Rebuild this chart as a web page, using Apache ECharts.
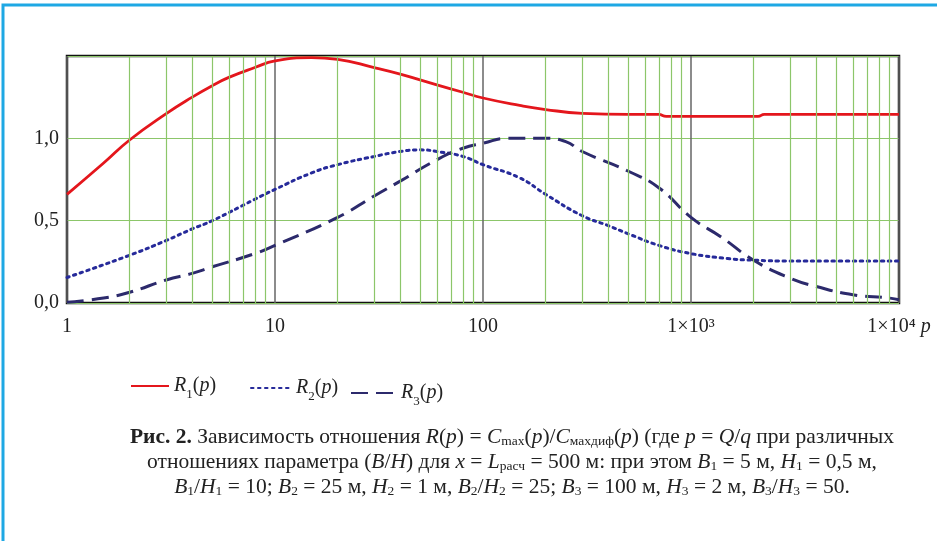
<!DOCTYPE html>
<html>
<head>
<meta charset="utf-8">
<script src="https://cdn.jsdelivr.net/npm/echarts@6/dist/echarts.min.js"></script>
<style>
  html, body { margin: 0; padding: 0; background: #fff; }
  #chart { width: 937px; height: 541px; }
</style>
</head>
<body>
<div id="chart"></div>
<script>
// значения p (ось x, логарифмическая) и R(p) для трёх кривых
var pR1 = [1, 1.5, 2, 3, 4, 5, 6, 8, 10, 15, 20, 30, 40, 60, 80, 100, 150, 200, 300, 500, 700, 760, 2100, 2250, 3000, 5000, 10000];
var vR1 = [0.66, 0.85, 0.99, 1.15, 1.25, 1.32, 1.37, 1.43, 1.47, 1.49, 1.48, 1.43, 1.39, 1.325, 1.28, 1.245, 1.2, 1.175, 1.152, 1.145, 1.145, 1.133, 1.133, 1.145, 1.145, 1.145, 1.145];

var pR2 = [1, 2, 3, 4, 5, 8, 10, 15, 20, 30, 40, 50, 60, 80, 100, 150, 200, 300, 400, 500, 700, 1000, 1500, 2000, 3000, 5000, 10000];
var vR2 = [0.155, 0.29, 0.38, 0.45, 0.5, 0.63, 0.69, 0.79, 0.84, 0.89, 0.92, 0.93, 0.92, 0.89, 0.84, 0.76, 0.66, 0.53, 0.47, 0.42, 0.35, 0.30, 0.27, 0.26, 0.255, 0.255, 0.255];

var pR3 = [1, 1.5, 2, 3, 4, 5, 8, 10, 20, 30, 40, 60, 80, 100, 130, 200, 250, 300, 500, 700, 1000, 1400, 2000, 3000, 4000, 6000, 9000, 10000];
var vR3 = [0.005, 0.03, 0.065, 0.14, 0.18, 0.22, 0.30, 0.35, 0.52, 0.65, 0.74, 0.87, 0.94, 0.97, 1.0, 1.0, 0.98, 0.92, 0.80, 0.70, 0.52, 0.40, 0.26, 0.15, 0.10, 0.05, 0.03, 0.02];

var xTickLabels = {1: '1', 10: '10', 100: '100', 1000: '1×10³', 10000: '1×10⁴ {i|p}'};
var yTickLabels = {0: '0,0', 0.5: '0,5', 1: '1,0', 1.5: ''};

var captionLines = [
    '{b|Рис. 2.} Зависимость отношения {i|R}({i|p}) = {i|C}{s|max}({i|p})/{i|C}{s|махдиф}({i|p}) (где {i|p} = {i|Q}/{i|q} при различных',
    'отношениях параметра ({i|B}/{i|H}) для {i|x} = {i|L}{s|расч} = 500 м: при этом {i|B}{s|1} = 5 м, {i|H}{s|1} = 0,5 м,',
    '{i|B}{s|1}/{i|H}{s|1} = 10; {i|B}{s|2} = 25 м, {i|H}{s|2} = 1 м, {i|B}{s|2}/{i|H}{s|2} = 25; {i|B}{s|3} = 100 м, {i|H}{s|3} = 2 м, {i|B}{s|3}/{i|H}{s|3} = 50.'
];

function zip(xs, ys) {
    return xs.map(function (x, i) { return [x, ys[i]]; });
}

// второстепенные линии сетки 2..9 в каждой декаде
var minorLines = [];
[1, 10, 100, 1000].forEach(function (d) {
    for (var k = 2; k <= 9; k++) minorLines.push({xAxis: k * d});
});

var serif = 'Liberation Serif';
var richBase = {
    i: {fontFamily: serif, fontStyle: 'italic', fontSize: 20, lineHeight: 20, verticalAlign: 'middle', color: '#222'},
    n: {fontFamily: serif, fontSize: 20, lineHeight: 20, verticalAlign: 'middle', color: '#222'},
    s: {fontFamily: serif, fontSize: 13, lineHeight: 14, verticalAlign: 'bottom', color: '#222'},
    pad: {fontSize: 1, lineHeight: 30, verticalAlign: 'middle'}
};

function legendName(name) {
    return '{pad|}{i|R}{s|' + name.slice(1) + '}{n|(}{i|p}{n|)}';
}

var captionRich = {
    b: {fontFamily: serif, fontWeight: 'bold', fontSize: 21.5, lineHeight: 21, verticalAlign: 'middle', fill: '#222'},
    i: {fontFamily: serif, fontStyle: 'italic', fontSize: 21.5, lineHeight: 21, verticalAlign: 'middle', fill: '#222'},
    s: {fontFamily: serif, fontSize: 13.5, lineHeight: 14, verticalAlign: 'bottom', fill: '#222'}
};

var myChart = echarts.init(document.getElementById('chart'));

var option = {
    backgroundColor: '#fff',
    animation: false,
    grid: {
        left: 67, top: 56, right: 38, bottom: 238,
        show: true, borderColor: '#111', borderWidth: 2.5
    },
    xAxis: {
        type: 'log', logBase: 10, min: 1, max: 10000,
        axisLine: {show: false},
        axisTick: {show: false},
        splitLine: {show: true, lineStyle: {color: '#666', width: 1.5}},
        axisLabel: {
            margin: 14,
            fontFamily: serif, fontSize: 20, color: '#222',
            formatter: function (v) { return xTickLabels[Math.round(v)] || ''; },
            rich: {i: {fontFamily: serif, fontStyle: 'italic', fontSize: 20, color: '#222'}}
        }
    },
    yAxis: {
        type: 'value', min: 0, max: 1.5, interval: 0.5,
        axisLine: {show: false},
        axisTick: {show: false},
        splitLine: {show: true, lineStyle: {color: '#8cc66a', width: 1.2}},
        axisLabel: {
            margin: 8,
            fontFamily: serif, fontSize: 20, color: '#222',
            formatter: function (v) { var k = Math.round(v * 10) / 10; return yTickLabels[k] !== undefined ? yTickLabels[k] : ''; }
        }
    },
    legend: [
        {data: ['R1'], left: 125, top: 371, itemWidth: 38, itemHeight: 14, itemStyle: {opacity: 0}, formatter: legendName, textStyle: {rich: richBase}},
        {data: ['R2'], left: 245, top: 373, itemWidth: 40, itemHeight: 14, itemStyle: {opacity: 0}, formatter: legendName, textStyle: {rich: richBase}},
        {data: ['R3'], left: 345, top: 378, itemWidth: 45, itemHeight: 14, itemStyle: {opacity: 0}, formatter: legendName, textStyle: {rich: richBase}}
    ],
    graphic: [
        {
            type: 'polyline', silent: true, z: 100,
            shape: {points: [[3, 541], [3, 5], [937, 5]]},
            style: {stroke: '#1ea8e4', lineWidth: 3, fill: null}
        }
    ].concat(captionLines.map(function (t, k) {
        return {
            type: 'text', x: 512, y: 437 + k * 25, silent: true,
            style: {text: t, rich: captionRich, align: 'center', verticalAlign: 'middle',
                    fontFamily: serif, fontSize: 21.5, fill: '#222'}
        };
    })),
    series: [
        {
            name: 'grid-minor', type: 'line', data: [], silent: true, z: 1,
            markLine: {
                silent: true, symbol: ['none', 'none'], animation: false,
                label: {show: false},
                lineStyle: {color: '#8cc66a', type: 'solid', width: 1.2},
                data: minorLines
            }
        },
        {
            name: 'R1', type: 'line', data: zip(pR1, vR1),
            showSymbol: false, symbol: 'none', smooth: 0.5,
            color: '#e4161c',
            lineStyle: {color: '#e4161c', width: 2.8}
        },
        {
            name: 'R2', type: 'line', data: zip(pR2, vR2),
            showSymbol: false, symbol: 'none', smooth: 0.5,
            color: '#262a9a',
            lineStyle: {color: '#262a9a', width: 3, type: [2.5, 4.5], cap: 'round'}
        },
        {
            name: 'R3', type: 'line', data: zip(pR3, vR3),
            showSymbol: false, symbol: 'none', smooth: 0.5,
            color: '#2c2a6c',
            lineStyle: {color: '#2c2a6c', width: 3, type: [17, 8]}
        }
    ]
};

myChart.setOption(option);
</script>
</body>
</html>
